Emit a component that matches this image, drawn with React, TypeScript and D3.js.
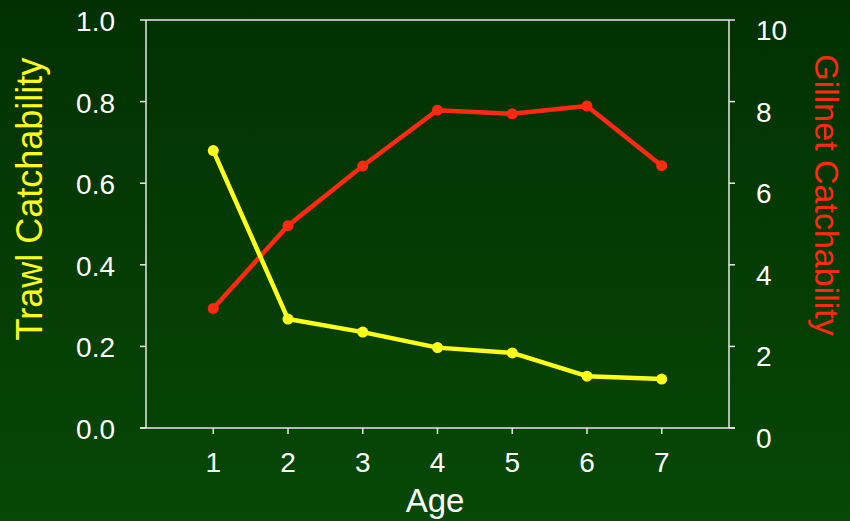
import React from "react";
import * as d3 from "d3";

const ages = [1, 2, 3, 4, 5, 6, 7];
const trawl = [0.68, 0.267, 0.235, 0.197, 0.184, 0.127, 0.12];
const gillnet = [2.93, 4.96, 6.42, 7.79, 7.7, 7.89, 6.43];
const leftTicks = [0, 0.2, 0.4, 0.6, 0.8, 1.0];
const rightTicks = [0, 2, 4, 6, 8, 10];

const W = 850, H = 521;
const L = 146, R = 729, T = 20, B = 428;

export default function App() {
  const x = d3.scaleLinear().domain([0.1, 7.9]).range([L, R]);
  const yL = d3.scaleLinear().domain([0, 1]).range([B, T]);
  const yR = d3.scaleLinear().domain([0, 10]).range([B, T]);
  const lineT = d3.line<number>().x((_, i) => x(ages[i])).y(d => yL(d));
  const lineG = d3.line<number>().x((_, i) => x(ages[i])).y(d => yR(d));
  const font = "'Liberation Sans', Arial, sans-serif";
  return (
    <svg width={W} height={H} style={{ position: "absolute", left: 0, top: 0, display: "block" }} fontFamily={font}>
      <defs>
        <linearGradient id="bg" x1="0" y1="0" x2="0" y2="1">
          <stop offset="0" stopColor="#023002" />
          <stop offset="1" stopColor="#064806" />
        </linearGradient>
      </defs>
      <rect x={0} y={0} width={W} height={H} fill="url(#bg)" />
      <line x1={L} x2={R} y1={T} y2={T} stroke="#e8e8e8" strokeWidth={1.5} />
      <line x1={L} x2={L} y1={T} y2={B} stroke="#e8e8e8" strokeWidth={1.5} />
      <line x1={R} x2={R} y1={T} y2={B} stroke="#e8e8e8" strokeWidth={1.5} />
      <line x1={L - 6} x2={R + 6} y1={B} y2={B} stroke="#e8e8e8" strokeWidth={1.5} />
      {leftTicks.map(t => (
        <g key={"l" + t}>
          <line x1={L - 6} x2={L} y1={yL(t)} y2={yL(t)} stroke="#e8e8e8" strokeWidth={1.5} />
          <text x={115} y={yL(t) + 11} textAnchor="end" fill="#ffffff" fontSize={28}>{t.toFixed(1)}</text>
        </g>
      ))}
      {rightTicks.map(t => (
        <g key={"r" + t}>
          <line x1={R} x2={R + 6} y1={yR(t)} y2={yR(t)} stroke="#e8e8e8" strokeWidth={1.5} />
          <text x={756} y={yR(t) + 20} textAnchor="start" fill="#ffffff" fontSize={28}>{t}</text>
        </g>
      ))}
      {ages.map(a => (
        <g key={"x" + a}>
          <line x1={x(a)} x2={x(a)} y1={B} y2={B + 6} stroke="#e8e8e8" strokeWidth={1.5} />
          <text x={x(a)} y={472} textAnchor="middle" fill="#ffffff" fontSize={28}>{a}</text>
        </g>
      ))}
      <text x={435} y={512} textAnchor="middle" fill="#ffffff" fontSize={33}>Age</text>
      <text transform={`translate(42,199) rotate(-90)`} textAnchor="middle" fill="#ffff1a" fontSize={36}>Trawl Catchability</text>
      <text transform={`translate(815,195) rotate(90)`} textAnchor="middle" fill="#ff2a10" fontSize={34}>Gillnet Catchability</text>
      <path d={lineG(gillnet) || ""} fill="none" stroke="#ff2a10" strokeWidth={4.5} strokeLinejoin="round" />
      {gillnet.map((v, i) => (
        <circle key={"g" + i} cx={x(ages[i])} cy={yR(v)} r={5.5} fill="#ff2a10" />
      ))}
      <path d={lineT(trawl) || ""} fill="none" stroke="#ffff1a" strokeWidth={4.5} strokeLinejoin="round" />
      {trawl.map((v, i) => (
        <circle key={"t" + i} cx={x(ages[i])} cy={yL(v)} r={5.5} fill="#ffff1a" />
      ))}
    </svg>
  );
}
